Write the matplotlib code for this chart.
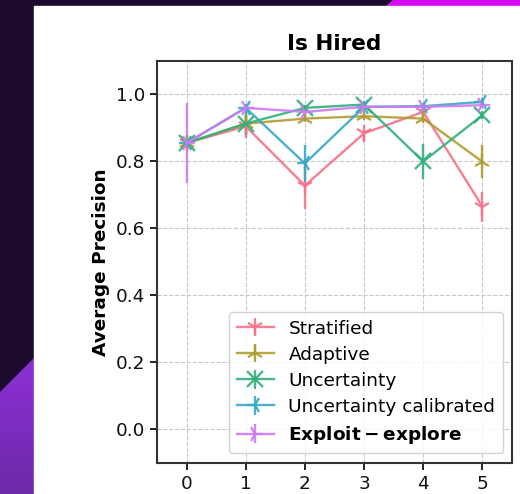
import numpy as np
import matplotlib
matplotlib.use("Agg")
import matplotlib.pyplot as plt
from matplotlib.patches import Polygon, Rectangle
import seaborn as sns

# Active-learning rounds and per-strategy average precision (mean, spread)
rounds = [0, 1, 2, 3, 4, 5]
strategies = ["Stratified", "Adaptive", "Uncertainty",
              "Uncertainty calibrated", r"$\mathbf{Exploit-explore}$"]
markers = ["1", "2", "x", "3", "4"]

stratified_mean = [0.855, 0.905, 0.728, 0.884, 0.948, 0.665]
stratified_err = [0.010, 0.035, 0.070, 0.025, 0.015, 0.045]
adaptive_mean = [0.855, 0.913, 0.928, 0.935, 0.928, 0.799]
adaptive_err = [0.010, 0.030, 0.010, 0.012, 0.012, 0.050]
uncertainty_mean = [0.855, 0.913, 0.960, 0.970, 0.800, 0.938]
uncertainty_err = [0.010, 0.035, 0.010, 0.010, 0.052, 0.012]
calibrated_mean = [0.855, 0.960, 0.794, 0.963, 0.965, 0.978]
calibrated_err = [0.010, 0.012, 0.056, 0.010, 0.010, 0.012]
exploit_mean = [0.855, 0.960, 0.948, 0.963, 0.963, 0.968]
exploit_err = [0.120, 0.010, 0.008, 0.008, 0.008, 0.008]

means = [stratified_mean, adaptive_mean, uncertainty_mean, calibrated_mean, exploit_mean]
errs = [stratified_err, adaptive_err, uncertainty_err, calibrated_err, exploit_err]

W, H = 520, 494
fig = plt.figure(figsize=(W / 100, H / 100), dpi=100)

# Framing background drawn in pixel coordinates
bg = fig.add_axes([0, 0, 1, 1], zorder=-10)
bg.set_xlim(0, W)
bg.set_ylim(H, 0)
bg.axis("off")
bg.add_patch(Rectangle((0, 0), W, H, color="#1b0a2c", zorder=0))
bg.add_patch(Polygon([(387, 6), (394, 0), (W, 0), (W, 6)], color="#d70af7", zorder=1))
tri = Polygon([(0, 392), (34, 358), (34, H), (0, H)], facecolor="none", edgecolor="none")
bg.add_patch(tri)
grad = np.linspace(0, 1, 256).reshape(-1, 1)
cmap = matplotlib.colors.LinearSegmentedColormap.from_list("pg", ["#8d2fd6", "#6c2aa8"])
im = bg.imshow(grad, cmap=cmap, extent=(0, 34, H, 358), aspect="auto", zorder=1)
im.set_clip_path(tri)
bg.add_patch(Rectangle((34, 6), W - 34, H - 6, color="white", zorder=2))

ax = fig.add_axes([157 / W, 1 - 462.7 / H, (512 - 157) / W, (462.7 - 61) / H])
colors = sns.color_palette("husl", 5)

for name, m, mu, er, c in zip(strategies, markers, means, errs, colors):
    ax.errorbar(rounds, mu, yerr=er, label=name, color=c, marker=m,
                markersize=12, markeredgewidth=1.7, linewidth=1.7,
                elinewidth=1.7, capsize=0, alpha=0.9)

ax.set_xlim(-0.5, 5.5)
ax.set_ylim(-0.1, 1.1)
ax.set_xticks(rounds)
ax.set_yticks([0.0, 0.2, 0.4, 0.6, 0.8, 1.0])
ax.grid(True, linestyle="--", color="#c8c8c8", linewidth=0.8)
ax.set_axisbelow(True)
ax.tick_params(direction="out", length=5, width=1.3, labelsize=13.3, colors="#111111")
for s in ax.spines.values():
    s.set_linewidth(1.5)
    s.set_color("#333333")
ax.set_title("Is Hired", fontsize=15.5, fontweight="bold", pad=8)
ax.set_ylabel("Average Precision", fontsize=13.3, fontweight="bold", labelpad=4)
leg = ax.legend(loc="lower right", fontsize=13.3, handlelength=2.0,
                borderaxespad=0.5, labelspacing=0.44, framealpha=0.85)
leg.get_frame().set_edgecolor("#cccccc")

fig.savefig("out.png", dpi=100)
